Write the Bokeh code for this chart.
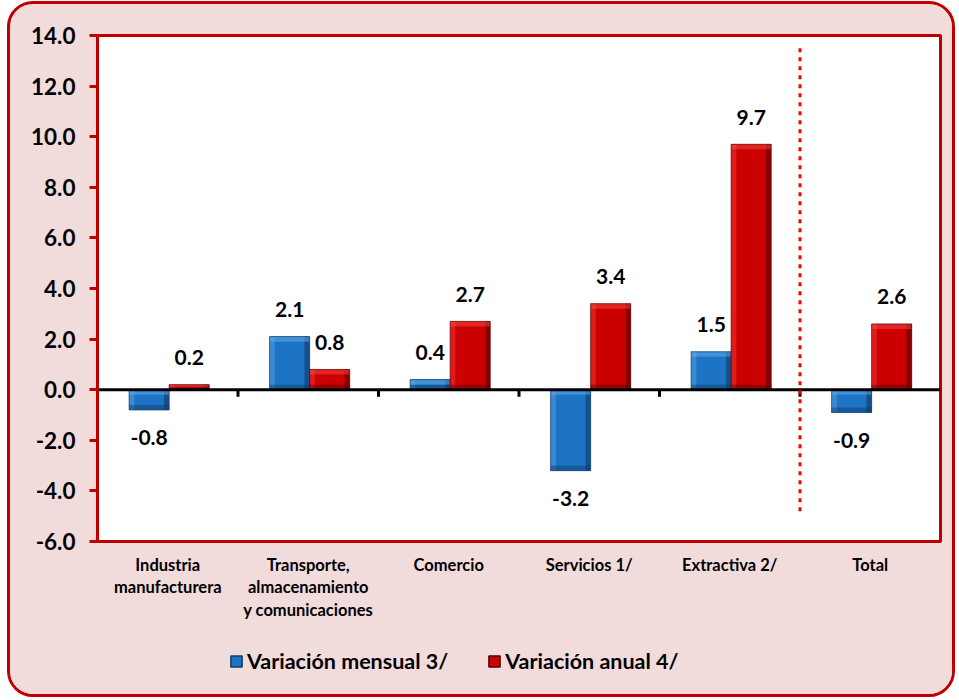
from bokeh.plotting import figure
from bokeh.layouts import column
from bokeh.models import Range1d, FixedTicker, Legend, LegendItem, ColumnDataSource
from bokeh.embed import file_html
from bokeh.resources import INLINE
from bokeh.core.properties import value

categories = ["Industria\nmanufacturera", "Transporte,\nalmacenamiento\ny comunicaciones",
              "Comercio", "Servicios 1/", "Extractiva 2/", "Total"]
mensual = [-0.8, 2.1, 0.4, -3.2, 1.5, -0.9]
anual = [0.2, 0.8, 2.7, 3.4, 9.7, 2.6]
y_ticks = [-6, -4, -2, 0, 2, 4, 6, 8, 10, 12, 14]
series_names = ["Variación mensual 3/", "Variación anual 4/"]
separator_at = 5  # boundary before "Total"
separator_span = [13.5, -4.85]

FONT = "Lato"
PINK = "#F2DCDB"
RED = "#C00000"
BW = 0.285
BEVEL_X = BW * 0.13
BEVEL_Y = 0.2
n = len(categories)
idx = list(range(n))
BLUE_MAIN, BLUE_DARK, BLUE_LIGHT = "#1E74C4", "#0E3A66", "#6FB4F0"
RED_MAIN, RED_DARK, RED_LIGHT = "#CC0000", "#5A0000", "#FF5050"

def fmt(v):
    return f"{v:.1f}"

def make_src(vals, shift):
    xs = [i + 0.5 + shift for i in idx]
    hi = [max(v, 0) for v in vals]
    lo = [min(v, 0) for v in vals]
    e = [min(BEVEL_Y, abs(v) / 2) for v in vals]
    return ColumnDataSource(dict(
        x=xs, top=vals, bottom=[0] * n,
        lbl=[fmt(v) for v in vals],
        yoff=[-27 if v >= 0 else 28 for v in vals],
        xr=[x + BW / 2 - BEVEL_X / 2 for x in xs],
        xl=[x - BW / 2 + BEVEL_X / 2 for x in xs],
        hi=hi, hi_e=[h - d for h, d in zip(hi, e)],
        lo=lo, lo_e=[l + d for l, d in zip(lo, e)],
    ))

src_m = make_src(mensual, -BW / 2 + 0.01)
src_a = make_src(anual, BW / 2 + 0.01)

W = 942
H1, H2 = 625, 65
p = figure(width=W, height=H1, output_backend="svg", toolbar_location=None,
           x_range=Range1d(0, n), y_range=Range1d(y_ticks[0], y_ticks[-1]),
           min_border_left=87, min_border_right=12, min_border_top=31, min_border_bottom=88)
p.border_fill_color = PINK
p.background_fill_color = "white"
p.outline_line_color = RED
p.outline_line_width = 3
p.grid.visible = False

# y axis
p.yaxis.ticker = FixedTicker(ticks=y_ticks)
p.yaxis.major_label_overrides = {t: fmt(t) for t in y_ticks}
p.yaxis.axis_line_color = RED
p.yaxis.axis_line_width = 3
p.yaxis.major_tick_line_color = RED
p.yaxis.major_tick_line_width = 3
p.yaxis.major_tick_out = 8
p.yaxis.major_tick_in = 0
p.yaxis.minor_tick_line_color = None
p.yaxis.major_label_text_font = FONT
p.yaxis.major_label_text_font_style = "bold"
p.yaxis.major_label_text_font_size = "22.5px"
p.yaxis.major_label_text_color = "black"
p.yaxis.major_label_standoff = 14

# x axis (categories)
p.xaxis.ticker = FixedTicker(ticks=[i + 0.5 for i in idx])
p.xaxis.major_label_overrides = {i + 0.5: c for i, c in enumerate(categories)}
p.xaxis.axis_line_color = None
p.xaxis.major_tick_line_color = None
p.xaxis.minor_tick_line_color = None
p.xaxis.major_label_text_font = FONT
p.xaxis.major_label_text_font_style = "bold"
p.xaxis.major_label_text_font_size = "16.5px"
p.xaxis.major_label_text_color = "black"
p.xaxis.major_label_text_line_height = 1.13
p.xaxis.major_label_standoff = 7

def bars(fig, src, main, dark, light):
    fig.vbar(x="x", top="top", bottom="bottom", width=BW, source=src,
             fill_color=main, line_color=None)
    fig.vbar(x="xl", top="hi", bottom="lo", width=BEVEL_X, source=src,
             fill_color=light, fill_alpha=0.35, line_color=None)
    fig.vbar(x="xr", top="hi", bottom="lo", width=BEVEL_X, source=src,
             fill_color=dark, fill_alpha=0.6, line_color=None)
    fig.vbar(x="x", top="hi", bottom="hi_e", width=BW, source=src,
             fill_color=light, fill_alpha=0.45, line_color=None)
    fig.vbar(x="x", top="lo_e", bottom="lo", width=BW, source=src,
             fill_color=dark, fill_alpha=0.45, line_color=None)
    fig.vbar(x="x", top="top", bottom="bottom", width=BW, source=src,
             fill_color=None, line_color=dark, line_width=1, line_alpha=0.7)

bars(p, src_m, BLUE_MAIN, BLUE_DARK, BLUE_LIGHT)
bars(p, src_a, RED_MAIN, RED_DARK, RED_LIGHT)

# zero line and category separators
p.segment(x0=[0], y0=[0], x1=[n], y1=[0], line_color="black", line_width=3)
p.segment(x0=idx, y0=[0] * n, x1=idx, y1=[-0.28] * n, line_color="black", line_width=3)

# dotted separator
p.segment(x0=[separator_at], y0=[separator_span[0]], x1=[separator_at], y1=[separator_span[1]],
          line_color="#FF0000", line_width=3, line_dash="4 5")

for src in (src_m, src_a):
    p.text(x="x", y="top", text="lbl", y_offset="yoff", source=src,
           text_align="center", text_baseline="middle",
           text_font=value(FONT), text_font_style="bold", text_font_size="21px",
           text_color="black")

# legend strip (its renderers share the series sources; their bars lie outside this strip's view)
q = figure(width=W, height=H2, output_backend="svg", toolbar_location=None,
           x_range=Range1d(-3, -2), y_range=Range1d(20, 21),
           x_axis_location=None, y_axis_location=None,
           min_border=0, min_border_left=0, min_border_right=0,
           min_border_top=0, min_border_bottom=0)
q.grid.visible = False
q.outline_line_color = None
q.border_fill_color = PINK
q.background_fill_color = PINK
lm = q.vbar(x="x", top="top", bottom="bottom", width=BW, source=src_m,
            fill_color=BLUE_MAIN, line_color=BLUE_DARK, line_width=1.5)
la = q.vbar(x="x", top="top", bottom="bottom", width=BW, source=src_a,
            fill_color=RED_MAIN, line_color=RED_DARK, line_width=1.5)
legend = Legend(items=[LegendItem(label=series_names[0], renderers=[lm]),
                       LegendItem(label=series_names[1], renderers=[la])],
                orientation="horizontal", location=(132, 20),
                padding=0, margin=0, spacing=39, label_standoff=4,
                glyph_width=14, glyph_height=14,
                border_line_alpha=0, background_fill_alpha=0,
                label_text_font=FONT, label_text_font_style="bold",
                label_text_font_size="21.5px", label_text_color="black")
q.add_layout(legend, "center")

layout = column(p, q, spacing=0,
                styles={"border": f"3px solid {RED}", "border-radius": "26px",
                        "overflow": "hidden", "margin": "1px 0 0 7px",
                        "background-color": PINK})

open("out.html", "w").write(file_html(layout, INLINE))
